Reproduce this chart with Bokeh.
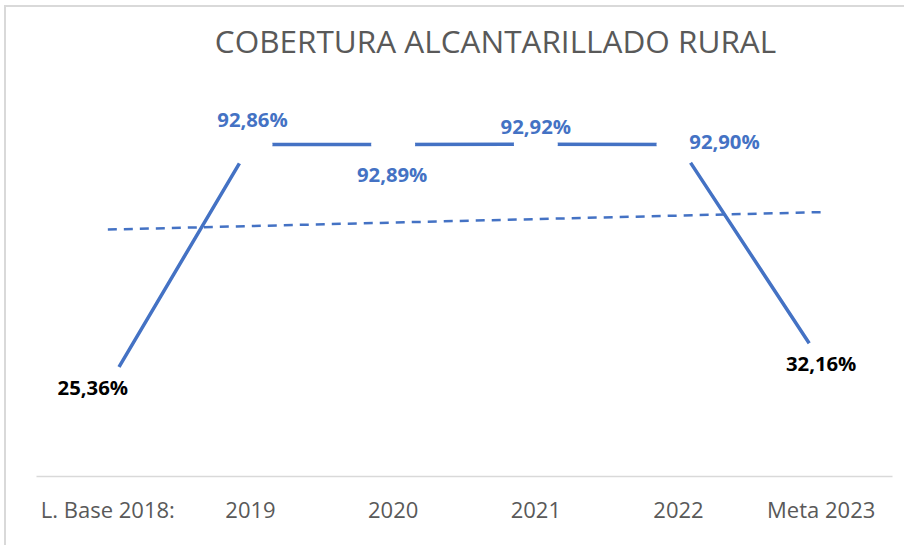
import numpy as np
from bokeh.plotting import figure
from bokeh.models import ColumnDataSource, FactorRange, Range1d, Label
from bokeh.core.properties import value
from bokeh.embed import file_html
from bokeh.resources import INLINE

# ---- data ----
categories = ["L. Base 2018:", "2019", "2020", "2021", "2022", "Meta 2023"]
coverage = [25.36, 92.86, 92.89, 92.92, 92.90, 32.16]
title_text = "COBERTURA ALCANTARILLADO RURAL"

# ---- label styling (pixel offsets from each point, colours) ----
label_dx = [-15, 2, -1, 0, 46, 0]
label_dy = [1, -26, 30, -18, -3, 1]
label_colors = ["#000000", "#4472C4", "#4472C4", "#4472C4", "#4472C4", "#000000"]

BLUE = "#4472C4"
GRAY = "#595959"
FONT = "Open Sans"

labels = [f"{v:.2f}%".replace(".", ",") for v in coverage]

# linear trendline (as in the spreadsheet) over the category index
idx = np.arange(len(coverage))
slope, intercept = np.polyfit(idx, coverage, 1)
trend = list(intercept + slope * idx)

src = ColumnDataSource(dict(cat=categories, val=coverage, lab=labels,
                            dx=label_dx, dy=label_dy, col=label_colors,
                            trend=trend))

FRAME_H = 469
p = figure(x_range=FactorRange(*categories), y_range=Range1d(0, FRAME_H / 3.575),
           width=900, height=540, y_axis_type=None,
           output_backend="svg", toolbar_location=None,
           min_border_left=30, min_border_right=14,
           min_border_top=0, min_border_bottom=540 - FRAME_H)
p.styles = {"border-top": "2px solid #d9d9d9", "border-left": "2px solid #d9d9d9",
            "margin-top": "5px", "margin-left": "4px"}
p.outline_line_color = None
p.xgrid.grid_line_color = None
p.ygrid.grid_line_color = None
p.background_fill_color = "white"
p.border_fill_color = "white"

ax = p.xaxis[0]
ax.axis_line_color = "#D9D9D9"
ax.axis_line_width = 1.5
ax.major_tick_line_color = None
ax.minor_tick_line_color = None
ax.major_tick_out = 0
ax.major_tick_in = 0
ax.major_label_standoff = 17
ax.major_label_text_font = FONT
ax.major_label_text_font_size = "22px"
ax.major_label_text_color = GRAY

# trendline
p.line(x="cat", y="trend", source=src, line_color=BLUE, line_width=2.5,
       line_dash="9 7")
# main series
p.line(x="cat", y="val", source=src, line_color=BLUE, line_width=3.5)
# white "markers" that open gaps around each point
p.scatter(x="cat", y="val", source=src, size=44, fill_color="white",
          line_color=None)
# data labels
p.text(x="cat", y="val", text="lab", source=src, x_offset="dx", y_offset="dy",
       text_align="center", text_baseline="middle",
       text_font=value(FONT), text_font_style="bold",
       text_font_size="20.3px", text_color="col")

title = Label(x=459, y=436, x_units="screen", y_units="screen",
              text=title_text, text_align="center", text_baseline="middle",
              text_font=FONT, text_font_size="31.5px", text_color=GRAY)
p.add_layout(title)

open("out.html", "w").write(file_html(p, INLINE))
